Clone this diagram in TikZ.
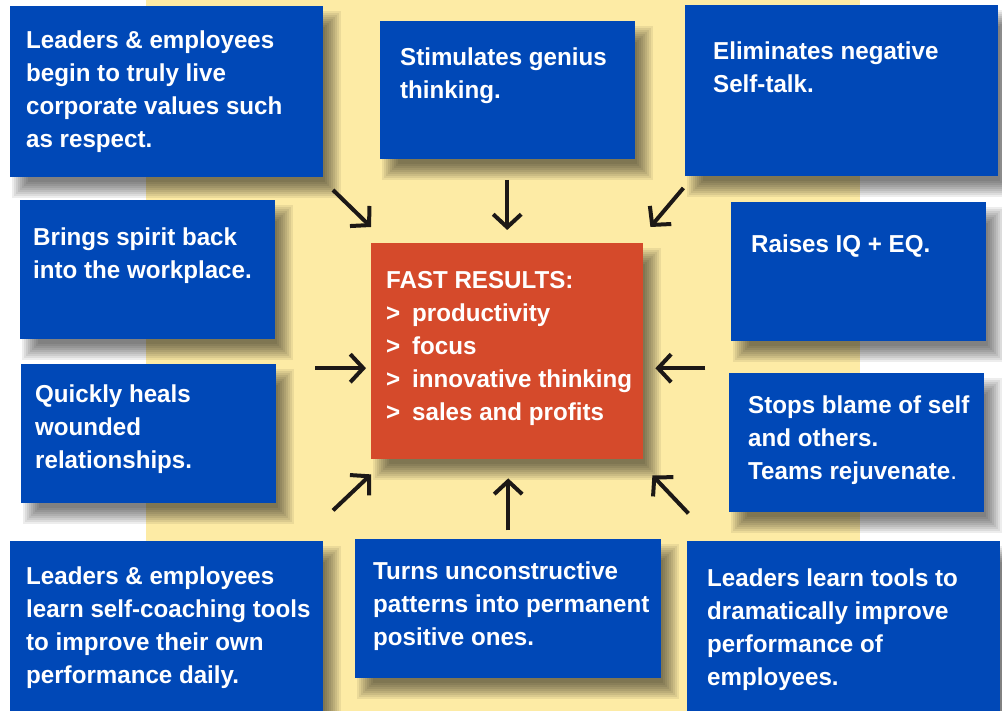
\documentclass[tikz,border=0pt]{standalone}
\usepackage{fontspec}
\setmainfont[FakeStretch=0.985]{Liberation Sans}
\usepackage{tikz}
\usetikzlibrary{arrows.meta,positioning,calc}
\usepackage{xcolor}

\definecolor{cardblue}{RGB}{0,72,183}
\definecolor{resred}{RGB}{213,74,43}
\definecolor{stripyellow}{RGB}{253,235,165}
\definecolor{arrowblack}{RGB}{28,24,22}

\pgfdeclarelayer{back}
\pgfdeclarelayer{shade}
\pgfsetlayers{back,shade,main}

\tikzset{
  card/.style={rectangle, fill=cardblue, inner sep=0pt, anchor=north west},
  result/.style={card, fill=resred},
  txt/.style={anchor=north west, inner sep=0pt, align=left, text=white,
    font=\bfseries\fontsize{24.5}{33}\selectfont,
    execute at begin node={\rule{0pt}{20pt}}},
  push/.style={-{Straight Barb[length=13pt,width=28pt]}, line width=4pt, arrowblack}
}

% soft drop shadow behind a named box
\newcommand{\castshadow}[1]{%
  \foreach \s in {-8,-6,...,8}
    \fill[black, opacity=0.07] ($(#1.south west)+(10+\s,-13+\s)$) rectangle ($(#1.north east)+(10-\s,-13-\s)$);}

\newcommand{\bul}{\makebox[26pt][l]{>}}

\begin{document}
\begin{tikzpicture}[x=1pt,y=1pt]
    \useasboundingbox (0,0) rectangle (1002,711);
    % background
    \begin{pgfonlayer}{back}
      \fill[white] (0,0) rectangle (1002,711);
      \fill[stripyellow] (146,0) rectangle (860,711);
    \end{pgfonlayer}

    % top row
    \node[card, minimum width=313pt, minimum height=171pt] (live) at (10,705) {};
    \node[txt] (livetxt) at ($(live.north west)+(16,-25)$) {Leaders \& employees\\begin to truly live\\corporate values such\\as respect.};

    \node[card, minimum width=255pt, minimum height=138pt] (genius) at (380,690) {};
    \node[txt] (geniustxt) at ($(genius.north west)+(20,-27)$) {Stimulates genius\\thinking.};

    \node[card, minimum width=313pt, minimum height=171pt] (selftalk) at (685,706) {};
    \node[txt] (selftalktxt) at ($(selftalk.north west)+(28,-37)$) {Eliminates negative\\Self-talk.};

    % left and right columns
    \node[card, minimum width=255pt, minimum height=139pt] (spirit) at (20,511) {};
    \node[txt] (spirittxt) at ($(spirit.north west)+(13,-28)$) {Brings spirit back\\into the workplace.};

    \node[card, minimum width=255pt, minimum height=139pt] (iqeq) at (731,509) {};
    \node[txt] (iqeqtxt) at ($(iqeq.north west)+(20,-30)$) {Raises IQ + EQ.};

    \node[card, minimum width=255pt, minimum height=139pt] (heals) at (21,347) {};
    \node[txt] (healstxt) at ($(heals.north west)+(14,-21)$) {Quickly heals\\wounded\\relationships.};

    \node[card, minimum width=255pt, minimum height=139pt] (blame) at (729,338) {};
    \node[txt] (blametxt) at ($(blame.north west)+(19,-23)$) {Stops blame of self\\and others.\\Teams rejuvenate{\mdseries .}};

    % bottom row
    \node[card, minimum width=313pt, minimum height=175pt] (coach) at (10,170) {};
    \node[txt] (coachtxt) at ($(coach.north west)+(16,-26)$) {Leaders \& employees\\learn self-coaching tools\\to improve their own\\performance daily.};

    \node[card, minimum width=306pt, minimum height=139pt] (patterns) at (355,172) {};
    \node[txt] (patternstxt) at ($(patterns.north west)+(18,-23)$) {Turns unconstructive\\patterns into permanent\\positive ones.};

    \node[card, minimum width=313pt, minimum height=175pt] (improve) at (687,170) {};
    \node[txt] (improvetxt) at ($(improve.north west)+(20,-28)$) {Leaders learn tools to\\dramatically improve\\performance of\\employees.};

    % centre
    \node[result, minimum width=272pt, minimum height=216pt] (res) at (371,468) {};
    \node[txt] (restxt) at ($(res.north west)+(15,-28)$) {FAST RESULTS:\\\bul productivity\\\bul focus\\\bul innovative thinking\\\bul sales and profits};

    % shadows
    \begin{pgfonlayer}{shade}
      \castshadow{live} \castshadow{genius} \castshadow{selftalk}
      \castshadow{spirit} \castshadow{iqeq} \castshadow{heals} \castshadow{blame}
      \castshadow{coach} \castshadow{patterns} \castshadow{improve}
      \castshadow{res}
    \end{pgfonlayer}

    % arrows into the centre
    \draw[push] ($(res.north west)+(-38,53)$) -- ($(res.north west)+(0,16)$);
    \draw[push] ($(res.north)+(0,63)$) -- ($(res.north)+(0,13)$);
    \draw[push] ($(res.north east)+(40,55)$) -- ($(res.north east)+(7,16)$);
    \draw[push] ($(res.west)+(-56,-17)$) -- ($(res.west)+(-5,-17)$);
    \draw[push] ($(res.east)+(62,-17)$) -- ($(res.east)+(12,-17)$);
    \draw[push] ($(res.south west)+(-38,-51)$) -- ($(res.south west)+(0,-15)$);
    \draw[push] ($(res.south)+(1,-71)$) -- ($(res.south)+(1,-19)$);
    \draw[push] ($(res.south east)+(45,-54)$) -- ($(res.south east)+(9,-16)$);
\end{tikzpicture}
\end{document}
